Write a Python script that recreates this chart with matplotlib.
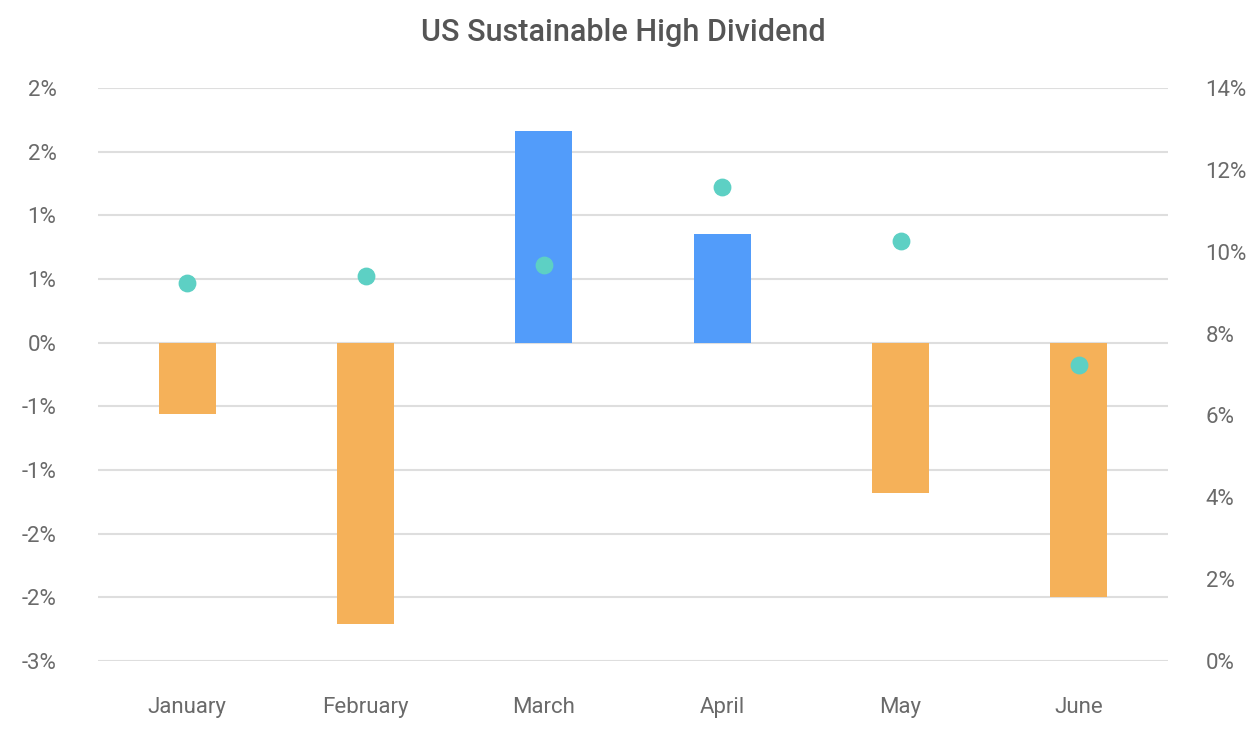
import math

import matplotlib.pyplot as plt
from matplotlib.ticker import FuncFormatter

plt.rcParams["font.family"] = ["Roboto", "DejaVu Sans"]

MONTHS = ["January", "February", "March", "April", "May", "June"]
RETURNS = [-0.56, -2.21, 1.66, 0.855, -1.18, -2.0]
YIELDS = [9.24, 9.41, 9.68, 11.58, 10.26, 7.23]

POS_COLOR = "#529CFA"
NEG_COLOR = "#F5B159"
DOT_COLOR = "#5DD0C4"
TEXT_COLOR = "#6A6A6A"
GRID_COLOR = "#DEDEDE"


def _pct_round(value, _pos):
    # labels are rounded half away from zero (1.5 -> 2%, -0.5 -> -1%)
    n = int(math.floor(abs(value) + 0.5 + 1e-9))
    if value < 0 and n != 0:
        n = -n
    return f"{n}%"


fig = plt.figure(figsize=(12.46, 7.29), dpi=100)
ax = fig.add_axes([0.0787, 0.0933, 0.8587, 0.786])
ax2 = ax.twinx()

x = list(range(len(MONTHS)))
colors = [POS_COLOR if r >= 0 else NEG_COLOR for r in RETURNS]
ax.bar(x, RETURNS, width=0.32, color=colors, zorder=3)

ax.set_xlim(-0.5, len(MONTHS) - 0.5)
ax.set_ylim(-2.5, 2.0)
ax.set_yticks([-2.5, -2.0, -1.5, -1.0, -0.5, 0, 0.5, 1.0, 1.5, 2.0])
ax.yaxis.set_major_formatter(FuncFormatter(_pct_round))
ax.grid(True, axis="y", color=GRID_COLOR, linewidth=1.5, zorder=0)
ax.set_axisbelow(True)
ax.set_xticks(x, MONTHS)

ax2.scatter(x, YIELDS, s=140, color=DOT_COLOR, zorder=4)
ax2.set_ylim(0, 14)
ax2.set_yticks(range(0, 15, 2))
ax2.yaxis.set_major_formatter(FuncFormatter(lambda v, _p: f"{v:.0f}%"))

for a in (ax, ax2):
    for side in ("top", "right", "left", "bottom"):
        a.spines[side].set_visible(False)
    a.tick_params(length=0, labelsize=16, colors=TEXT_COLOR)

ax.tick_params(axis="y", pad=30)
ax2.tick_params(axis="y", pad=27)
ax.tick_params(axis="x", pad=26)

fig.suptitle("US Sustainable High Dividend", y=0.975, fontsize=22,
             fontweight="medium", color="#555555")

fig.savefig("out.png", dpi=100)
